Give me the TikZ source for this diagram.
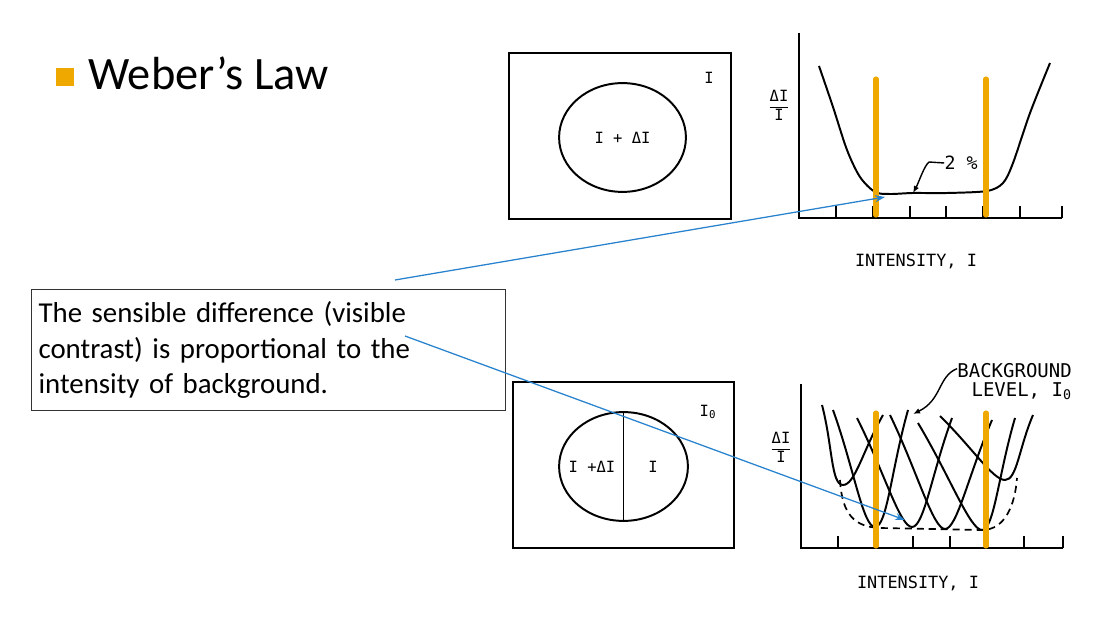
\documentclass[tikz,border=0pt]{standalone}
\usepackage{fontspec}
\setmainfont{Carlito}
\newfontfamily\plotfont{DejaVu Sans Mono}
\usetikzlibrary{arrows.meta,positioning,shapes.geometric}
\definecolor{barorange}{RGB}{238,168,0}
\definecolor{callblue}{RGB}{40,130,205}

\begin{document}
\begin{tikzpicture}[x=0.025cm,y=-0.025cm,
    bar/.style={line width=3.6pt,color=barorange,line cap=round},
    curve/.style={line width=1.4pt},
    frame/.style={line width=1.6pt},
    spot/.style={draw,ellipse,line width=1.4pt,inner sep=0pt,minimum height=2.72cm},
    lbl/.style={inner sep=0pt,font=\plotfont\fontsize{11}{13}\selectfont},
    leader/.style={line width=1pt,-{Latex[length=5pt,width=4pt]}},
    pointer/.style={callblue,line width=0.9pt,-{Stealth[length=7pt,width=5pt]}}]
  \useasboundingbox (0,0) rectangle (1116,628);

  \fill[barorange] (56,68) rectangle (74,86);
  \node[anchor=base west,inner sep=0pt,font=\fontsize{33}{38}\selectfont] (title) at (88,90) {Weber’s Law};

  \node[draw=black!80,line width=0.8pt,anchor=north west,inner xsep=5pt,text width=11.5cm,
        minimum height=3.025cm,align=left,font=\fontsize{20.5}{25}\selectfont] (note) at (31,289)
        {The sensible difference (visible\\contrast) is proportional to the\\intensity of background.};

  \draw[frame] (509,53) rectangle (731,219);
  \node[spot,minimum width=3.17cm,lbl] (spotA) at (622.5,137.5) {I + ΔI};
  \node[lbl] (bgA) at (709,78) {I};

  \draw[frame] (513,382) rectangle (734,548);
  \node[spot,minimum width=3.22cm] (spotB) at (623.5,466.5) {};
  \draw[line width=1.4pt] (spotB.north) -- (spotB.south);
  \node[lbl] (leftB) at (592,467) {I +ΔI};
  \node[lbl] (rightB) at (653,467) {I};
  \node[lbl] (bgB) at (708,412) {I\textsubscript{0}};

  \draw[curve] (799,33) -- (799,218) -- (1062,218);
  \foreach \t in {836,873,910,946,983,1020,1062}
    \draw[curve] (\t,218) -- (\t,206);
  \draw[curve] plot[smooth] coordinates {(819,66) (833,107) (847,150) (860,177) (875,192) (890,194)
    (913,193) (947,193) (987,191) (1003,183) (1013,163) (1030,113) (1050,63)};
  \draw[bar] (876,79) -- (876,215);
  \draw[bar] (986,79) -- (986,215);
  \node[lbl] (ratioA) at (779,107) {\begin{tabular}{@{}c@{}}ΔI\\\hline I\end{tabular}};
  \node[lbl,font=\plotfont\fontsize{12}{14}\selectfont] (axisA) at (916,261) {INTENSITY, I};
  \node[lbl,font=\plotfont\fontsize{13}{15}\selectfont] (pct) at (961,163) {2 \%};
  \draw[leader] (pct.west) -- (929,162) .. controls (924,166) and (919,182) .. (913,193);

  \draw[curve] (801,384) -- (801,548) -- (1063,548);
  \foreach \t in {838,875,913,950,987,1024,1063}
    \draw[curve] (\t,548) -- (\t,536);
  \foreach \lx/\ly/\mx/\my/\rx/\ry in {822/405/843/485/883/415, 833/410/875/527/908/410,
      857/418/912/527/952/418, 890/415/945/529/992/420, 918/423/982/530/1015/418, 940/416/1005/480/1033/415}
    \draw[curve] (\lx,\ly) .. controls (0.5*\lx+0.5*\mx,0.5*\ly+0.5*\my) and (\mx-12,\my) .. (\mx,\my)
      .. controls (\mx+12,\my) and (0.5*\rx+0.5*\mx,0.5*\ry+0.5*\my) .. (\rx,\ry);
  \draw[line width=1.2pt,dash pattern=on 5pt off 3.5pt] (840,480) .. controls (842,515) and (855,527) .. (880,528)
    -- (982,530) .. controls (1005,530) and (1015,505) .. (1017,478);
  \draw[bar] (876,413) -- (876,546);
  \draw[bar] (986,413) -- (986,546);
  \node[lbl] (ratioB) at (781,449) {\begin{tabular}{@{}c@{}}ΔI\\\hline I\end{tabular}};
  \node[lbl,font=\plotfont\fontsize{12}{14}\selectfont] (axisB) at (918,583) {INTENSITY, I};
  \node[lbl,align=right,anchor=north east,font=\plotfont\fontsize{13.5}{13.5}\selectfont] (level) at (1072,363)
    {BACKGROUND\\LEVEL, I\textsubscript{0}};
  \draw[leader] ([yshift=-4pt]level.north west) .. controls (938,376) and (942,400) .. (913,414);

  \coordinate (fromA) at (395,280);
  \coordinate (toA) at (885,197);
  \coordinate (fromB) at (405,336);
  \coordinate (toB) at (905,520);
  \draw[pointer] (fromA) -- (toA);
  \draw[pointer] (fromB) -- (toB);
\end{tikzpicture}
\end{document}
